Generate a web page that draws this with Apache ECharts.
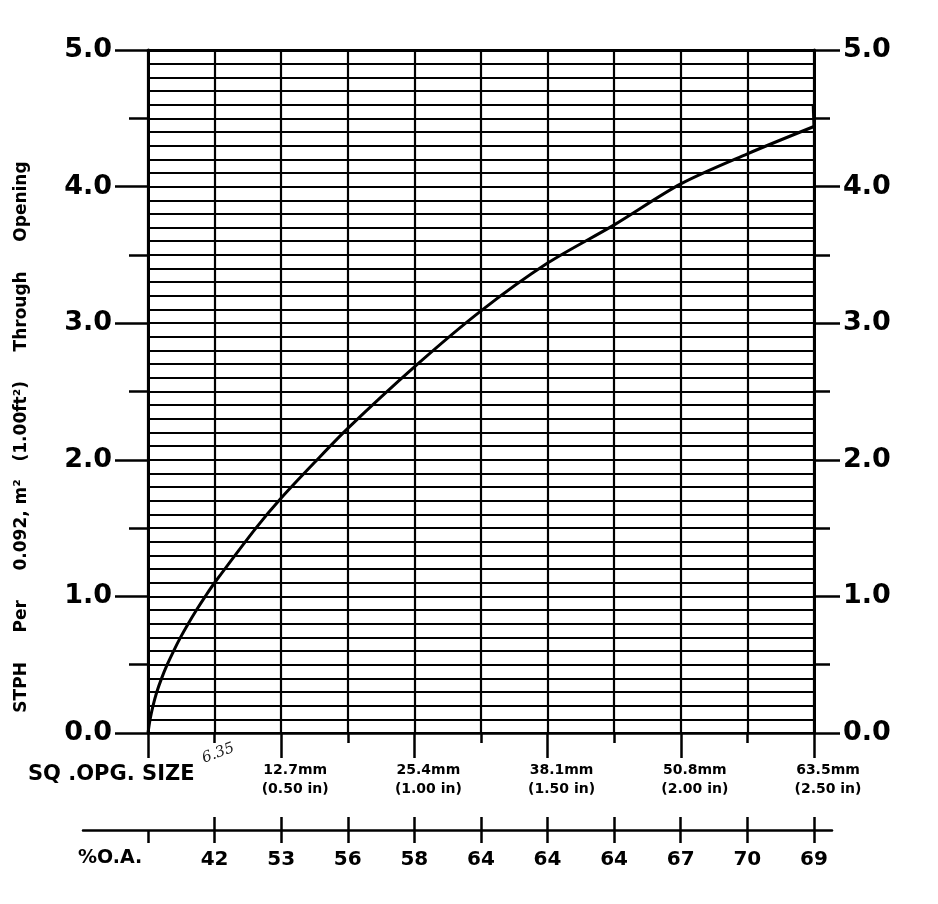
<!DOCTYPE html>
<html>
<head>
<meta charset="utf-8">
<script src="https://cdn.jsdelivr.net/npm/echarts@6/dist/echarts.min.js"></script>
<style>
html,body{margin:0;padding:0;background:#fff;}
#chart{width:938px;height:904px;}
</style>
</head>
<body>
<div id="chart"></div>
<script>
// Curve: square opening size (inches) vs STPH per 0.0929 m2 (1.00 ft2)
const openingIn = [0, 0.008, 0.019, 0.033, 0.051, 0.072, 0.096, 0.122, 0.151, 0.182, 0.215, 0.25, 0.405, 0.5, 0.625, 0.75, 1.0, 1.25, 1.5, 1.75, 2.0, 2.25, 2.5];
const stph      = [0, 0.1,   0.2,   0.3,   0.4,   0.5,   0.6,   0.7,   0.8,   0.9,   1.0,   1.1,  1.5,   1.72, 1.98,  2.23, 2.68, 3.09, 3.44, 3.72, 4.02, 4.24, 4.44];
// small pen hook at the right-hand end of the curve
const hookIn   = [2.5, 2.497];
const hookStph = [4.44, 4.6];

// Opening size tick labels (at 0.5 in steps)
const sizeTickIn = [0.5, 1.0, 1.5, 2.0, 2.5];
const sizeMm = ['12.7mm', '25.4mm', '38.1mm', '50.8mm', '63.5mm'];
const sizeInLabel = ['(0.50 in)', '(1.00 in)', '(1.50 in)', '(2.00 in)', '(2.50 in)'];

// % open area tick labels (at 0.25 in steps)
const oaTickIn = [0.25, 0.5, 0.75, 1.0, 1.25, 1.5, 1.75, 2.0, 2.25, 2.5];
const oaLabels = ['42', '53', '56', '58', '64', '64', '64', '67', '70', '69'];

const FONT = 'DejaVu Sans';
const BLACK = '#000';

const chart = echarts.init(document.getElementById('chart'), null, {renderer: 'canvas'});

const curve = openingIn.map((x, i) => [x, stph[i]]);
const hook = hookIn.map((x, i) => [x, hookStph[i]]);

const mainGrid = {left: 148, right: 124, top: 50, bottom: 171};

const option = {
  backgroundColor: '#fff',
  animation: false,
  grid: [
    Object.assign({}, mainGrid),                 // 0: main plot
    {left: 83, right: 106, top: 790, height: 40}, // 1: %O.A. scale
    Object.assign({}, mainGrid)                  // 2: overlay for half ticks / major x ticks
  ],
  xAxis: [
    { // 0: main grid vertical lines + minor ticks
      gridIndex: 0, type: 'value', min: 0, max: 2.5, interval: 0.25, position: 'bottom',
      axisLine: {show: true, onZero: false, lineStyle: {color: BLACK, width: 2.5}},
      axisTick: {show: true, length: 10, lineStyle: {color: BLACK, width: 2.5}},
      axisLabel: {show: false},
      splitLine: {show: true, lineStyle: {color: BLACK, width: 2.2}}
    },
    { // 1: top border
      gridIndex: 0, type: 'value', min: 0, max: 2.5, position: 'top',
      axisLine: {show: true, onZero: false, lineStyle: {color: BLACK, width: 3}},
      axisTick: {show: false}, axisLabel: {show: false}, splitLine: {show: false}
    },
    { // 2: %O.A. axis
      gridIndex: 1, type: 'value', min: -0.244, max: 2.568, position: 'bottom',
      axisLine: {show: true, onZero: false, lineStyle: {color: BLACK, width: 2.5}},
      axisTick: {show: true, length: 13, customValues: [0].concat(oaTickIn), lineStyle: {color: BLACK, width: 2.5}},
      axisLabel: {
        show: true, customValues: oaTickIn, margin: 20,
        fontFamily: FONT, fontWeight: 'bold', fontSize: 20, color: BLACK,
        formatter: function (v) {
          const i = oaTickIn.findIndex(t => Math.abs(t - v) < 1e-6);
          return i >= 0 ? oaLabels[i] : '';
        }
      },
      splitLine: {show: false}
    },
    { // 3: %O.A. upper tick halves
      gridIndex: 1, type: 'value', min: -0.244, max: 2.568, position: 'bottom',
      axisLine: {show: false, onZero: false},
      axisTick: {show: true, inside: true, length: 13, customValues: oaTickIn, lineStyle: {color: BLACK, width: 2.5}},
      axisLabel: {show: false}, splitLine: {show: false}
    },
    { // 4: major x ticks + opening size labels
      gridIndex: 2, type: 'value', min: 0, max: 2.5, interval: 0.5, position: 'bottom',
      axisLine: {show: false, onZero: false},
      axisTick: {show: true, length: 25, lineStyle: {color: BLACK, width: 2.5}},
      axisLabel: {
        show: true, margin: 28, padding: [0, 0, 0, 28], showMinLabel: true,
        formatter: function (v) {
          const i = sizeTickIn.findIndex(t => Math.abs(t - v) < 1e-6);
          if (i < 0) return '';
          return '{a|' + sizeMm[i] + '}\n{b|' + sizeInLabel[i] + '}';
        },
        rich: {
          a: {fontFamily: FONT, fontWeight: 'bold', fontSize: 14, color: BLACK, lineHeight: 19, align: 'center'},
          b: {fontFamily: FONT, fontWeight: 'bold', fontSize: 14, color: BLACK, lineHeight: 19, align: 'center'}
        }
      },
      splitLine: {show: false}
    }
  ],
  yAxis: [
    { // 0: left axis, grid lines every 0.1, major ticks + labels
      gridIndex: 0, type: 'value', min: 0, max: 5, interval: 1, position: 'left',
      axisLine: {show: true, onZero: false, lineStyle: {color: BLACK, width: 3}},
      axisTick: {show: true, length: 33, lineStyle: {color: BLACK, width: 2.5}},
      axisLabel: {
        show: true, margin: 36,
        fontFamily: FONT, fontWeight: 'bold', fontSize: 27, color: BLACK,
        formatter: v => v.toFixed(1)
      },
      splitLine: {show: true, lineStyle: {color: BLACK, width: 1.8}},
      minorTick: {show: false, splitNumber: 10},
      minorSplitLine: {show: true, lineStyle: {color: BLACK, width: 1.8}}
    },
    { // 1: right axis, major ticks + labels
      gridIndex: 0, type: 'value', min: 0, max: 5, interval: 1, position: 'right',
      axisLine: {show: true, onZero: false, lineStyle: {color: BLACK, width: 3}},
      axisTick: {show: true, length: 26, lineStyle: {color: BLACK, width: 2.5}},
      axisLabel: {
        show: true, margin: 29,
        fontFamily: FONT, fontWeight: 'bold', fontSize: 27, color: BLACK,
        formatter: v => v.toFixed(1)
      },
      splitLine: {show: false}
    },
    {gridIndex: 1, type: 'value', min: 0, max: 1, show: false},
    { // 3: left half ticks
      gridIndex: 2, type: 'value', min: 0, max: 5, interval: 0.5, position: 'left',
      axisLine: {show: false, onZero: false},
      axisTick: {show: true, length: 19, lineStyle: {color: BLACK, width: 2.5}},
      axisLabel: {show: false}, splitLine: {show: false}
    },
    { // 4: right half ticks
      gridIndex: 2, type: 'value', min: 0, max: 5, interval: 0.5, position: 'right',
      axisLine: {show: false, onZero: false},
      axisTick: {show: true, length: 16, lineStyle: {color: BLACK, width: 2.5}},
      axisLabel: {show: false}, splitLine: {show: false}
    }
  ],
  series: [
    {
      type: 'line', xAxisIndex: 0, yAxisIndex: 0,
      data: curve, smooth: 0.3, showSymbol: false, symbol: 'none',
      lineStyle: {color: BLACK, width: 3}
    },
    {
      type: 'line', xAxisIndex: 0, yAxisIndex: 0,
      data: hook, smooth: false, showSymbol: false, symbol: 'none',
      lineStyle: {color: BLACK, width: 3}
    }
  ],
  graphic: [
    {type: 'text', x: 22, y: 437, rotation: Math.PI / 2,
     style: {text: 'STPH     Per     0.092, m²   (1.00ft²)     Through     Opening',
             fontFamily: FONT, fontWeight: 'bold', fontSize: 17, fill: BLACK,
             align: 'center', verticalAlign: 'middle'}},
    {type: 'text', left: 28, top: 764,
     style: {text: 'SQ .OPG. SIZE', fontFamily: FONT, fontWeight: 'bold', fontSize: 21, fill: BLACK}},
    {type: 'text', left: 78, top: 849,
     style: {text: '%O.A.', fontFamily: FONT, fontWeight: 'bold', fontSize: 19, fill: BLACK}},
    {type: 'text', x: 200, y: 752, rotation: 0.35,
     style: {text: '6.35', fontFamily: 'DejaVu Serif', fontStyle: 'italic', fontSize: 15, fill: '#222'}}
  ]
};

chart.setOption(option);
</script>
</body>
</html>
